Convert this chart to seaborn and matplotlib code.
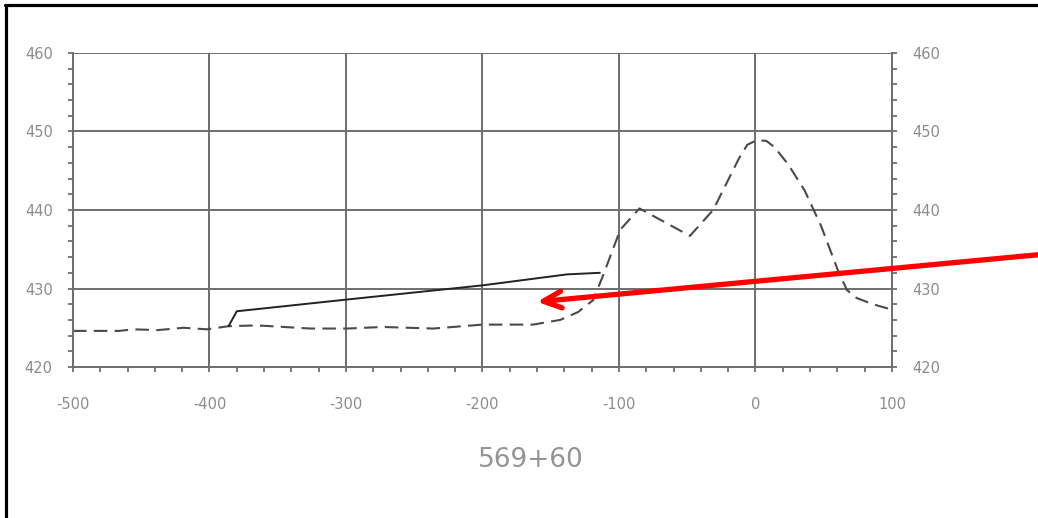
import numpy as np
import pandas as pd
import matplotlib.pyplot as plt
from matplotlib.lines import Line2D
from matplotlib.ticker import MultipleLocator
import seaborn as sns

# terreno natural (tracejado)
terreno_x = [-500, -466, -456, -438, -419, -402, -386, -365, -326, -299, -273,
             -236, -200, -163, -143, -130, -119, -112, -99, -85, -48, -31,
             -12, -6, 1, 8, 14, 24, 36, 48, 60, 67, 74, 86, 98]
terreno_y = [424.6, 424.6, 424.8, 424.7, 425.0, 424.8, 425.2, 425.3, 424.9, 424.9, 425.1,
             424.9, 425.4, 425.4, 426.0, 427.0, 428.5, 431.5, 437.5, 440.2, 436.7, 440.0,
             446.6, 448.3, 448.9, 448.8, 448.0, 445.8, 442.5, 438.0, 432.5, 429.8, 428.8,
             428.0, 427.4]

# greide de projeto (linha continua)
projeto_x = [-386, -380, -299, -200, -138, -114]
projeto_y = [425.2, 427.1, 428.6, 430.4, 431.8, 432.0]

estaca = "569+60"
xticks = [-500, -400, -300, -200, -100, 0, 100]
yticks = [420, 430, 440, 450, 460]

sns.set_style("white")
plt.rcParams['font.family'] = ['DejaVu Sans']
plt.rcParams['axes.unicode_minus'] = False

fig = plt.figure(figsize=(10.38, 5.18), dpi=100)
ax = fig.add_axes([0.0703, 0.2915, 0.7890, 0.6062])

cinza = '#6e6e6e'
rotulo = '#8c8c8c'
sns.lineplot(x=terreno_x, y=terreno_y, sort=False, ax=ax, color='#4a4a4a',
             linewidth=1.5, linestyle=(0, (6.5, 3.5)))
sns.lineplot(x=projeto_x, y=projeto_y, sort=False, ax=ax, color='#222222',
             linewidth=1.4)

ax.set_xlim(-500, 100)
ax.set_ylim(420, 460)
ax.set_xticks(xticks)
ax.set_yticks(yticks)
ax.xaxis.set_minor_locator(MultipleLocator(20))
ax.yaxis.set_minor_locator(MultipleLocator(2))
ax.grid(True, which='major', color=cinza, linewidth=1.4)
ax.set_axisbelow(True)

for s in ['left', 'right', 'bottom']:
    ax.spines[s].set_color(cinza)
    ax.spines[s].set_linewidth(1.4)
ax.spines['top'].set_visible(False)

ax.tick_params(axis='y', which='both', left=True, right=True, labelleft=True,
               labelright=True, direction='out', color=cinza, labelcolor=rotulo,
               labelsize=10.5, pad=11, length=3.6, width=1.3)
ax.tick_params(axis='x', which='both', bottom=True, direction='out', color=cinza,
               labelcolor=rotulo, labelsize=10.5, pad=18, length=3.6, width=1.3)

ax.set_xlabel('')
ax.set_ylabel('')
fig.text(0.511, 0.112, estaca, fontsize=19, color='#949494', ha='center', va='center')

# seta vermelha
ax.annotate('', xy=(-160, 428.3), xytext=(207, 434.3), xycoords='data',
            annotation_clip=False,
            arrowprops=dict(arrowstyle='->,head_length=1.3,head_width=0.6',
                            color='#ff0000', linewidth=3.8,
                            shrinkA=0, shrinkB=0))

# moldura
fig.add_artist(Line2D([0.0058, 0.0058], [0, 0.991], color='black', linewidth=2.3,
                      transform=fig.transFigure))
fig.add_artist(Line2D([0.0047, 1.0], [0.991, 0.991], color='black', linewidth=2.3,
                      transform=fig.transFigure))

plt.savefig('out.png', dpi=100)
